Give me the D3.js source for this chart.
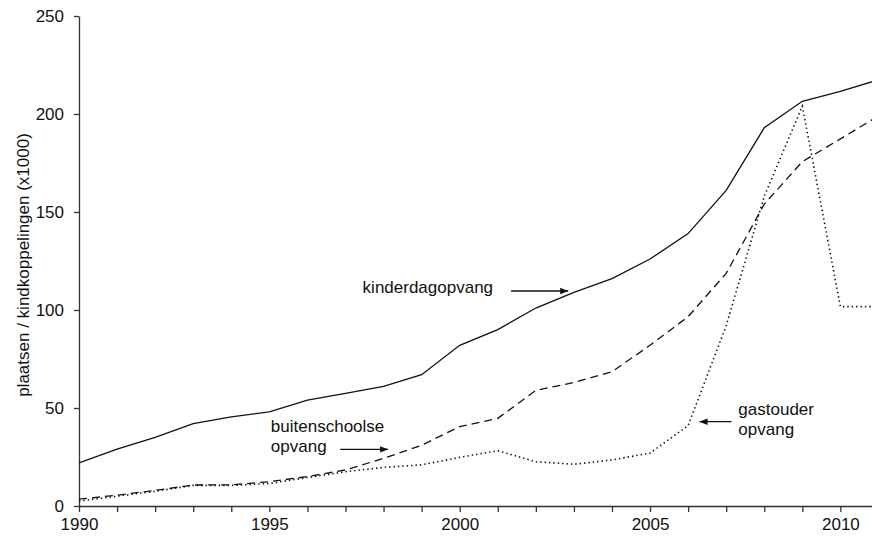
<!DOCTYPE html>
<html>
<head>
<meta charset="utf-8">
<script src="https://cdn.jsdelivr.net/npm/d3@7"></script>
<style>
  body { margin: 0; background: #fff; }
  text { font-family: "Liberation Sans", Arial, sans-serif; font-size: 17px; fill: #111; }
</style>
</head>
<body>
<svg id="chart" width="872" height="536"></svg>
<script>
const years = d3.range(1990, 2012);

// plaatsen / kindkoppelingen (x1000)
const kinderdagopvang = [22, 29, 35, 42, 45.5, 48, 54, 57.5, 61, 67, 82, 90, 101, 109, 116, 126, 139, 161, 193, 206.5, 211.5, 217.5];
const buitenschoolse = [3.5, 5.5, 8, 10.7, 10.8, 12.4, 15, 18.4, 24.3, 31, 40.5, 44.7, 59, 63, 68.5, 82, 96.6, 118.7, 154, 175.7, 187.3, 199];
const gastouder = [2.5, 5, 7.5, 10.5, 10.5, 11.5, 14.5, 17.5, 19.7, 21, 24.8, 28.2, 22.6, 21.3, 23.5, 27, 41, 92, 158, 204, 101.7, 101.7];

const yTicks = [0, 50, 100, 150, 200, 250];
const xLabels = [1990, 1995, 2000, 2005, 2010];

const series = [
  { name: "kinderdagopvang", values: kinderdagopvang, dash: null },
  { name: "buitenschoolse opvang", values: buitenschoolse, dash: "8,5" },
  { name: "gastouder opvang", values: gastouder, dash: "1.4,3" },
];

// labels + arrows, in data coordinates
const labels = [
  { lines: ["kinderdagopvang"], x: 1997.45, y: 108.5, arrow: [2001.35, 2002.85, 109.7] },
  { lines: ["buitenschoolse", "opvang"], x: 1995.04, y: 37.9, arrow: [1996.86, 1998.12, 28.9] },
  { lines: ["gastouder", "opvang"], x: 2007.32, y: 46.4, arrow: [2007.14, 2006.3, 43] },
];

const svg = d3.select("#chart");
const marginLeft = 79, plotTop = 16, plotBottom = 506;

const x = d3.scaleLinear().domain([1990, 2011]).range([marginLeft, marginLeft + 21 * 38.07]);
const y = d3.scaleLinear().domain([0, 250]).range([plotBottom, plotTop]);

svg.append("defs").append("marker")
  .attr("id", "arrow")
  .attr("viewBox", "0 0 10 10")
  .attr("refX", 10).attr("refY", 5)
  .attr("markerWidth", 8).attr("markerHeight", 8)
  .attr("markerUnits", "userSpaceOnUse")
  .attr("orient", "auto")
  .append("path").attr("d", "M0,1 L10,5 L0,9 Z").attr("fill", "#111");

// Axes
const xAxis = svg.append("g")
  .attr("transform", `translate(0,${plotBottom})`)
  .call(d3.axisBottom(x).tickValues(years).tickSize(6).tickSizeOuter(0).tickPadding(6)
    .tickFormat((d) => (xLabels.includes(d) ? d : "")));
xAxis.selectAll("text").style("font-size", "17px");

const yAxis = svg.append("g")
  .attr("transform", `translate(${marginLeft},0)`)
  .call(d3.axisLeft(y).tickValues(yTicks).tickSize(5).tickSizeOuter(0).tickPadding(10));
yAxis.selectAll("text").style("font-size", "17px");

svg.selectAll(".domain, .tick line").attr("stroke", "#333").attr("stroke-width", 1.3);

svg.append("text")
  .attr("transform", "translate(29,265) rotate(-90)")
  .attr("text-anchor", "middle")
  .text("plaatsen / kindkoppelingen (x1000)");

// Lines
const line = d3.line().x((d, i) => x(years[i])).y((d) => y(d));

svg.selectAll(".series")
  .data(series)
  .join("path")
  .attr("class", "series")
  .attr("d", (s) => line(s.values))
  .attr("fill", "none")
  .attr("stroke", "#111")
  .attr("stroke-width", (s) => (s.dash === "1.4,3" ? 1.6 : 1.3))
  .attr("stroke-dasharray", (s) => s.dash);

// Annotations
labels.forEach((l) => {
  const t = svg.append("text").attr("x", x(l.x)).attr("y", y(l.y));
  l.lines.forEach((s, i) => {
    t.append("tspan").attr("x", x(l.x)).attr("dy", i === 0 ? 0 : 20).text(s);
  });
  svg.append("line")
    .attr("x1", x(l.arrow[0])).attr("x2", x(l.arrow[1]))
    .attr("y1", y(l.arrow[2])).attr("y2", y(l.arrow[2]))
    .attr("stroke", "#111").attr("stroke-width", 1.3)
    .attr("marker-end", "url(#arrow)");
});
</script>
</body>
</html>
